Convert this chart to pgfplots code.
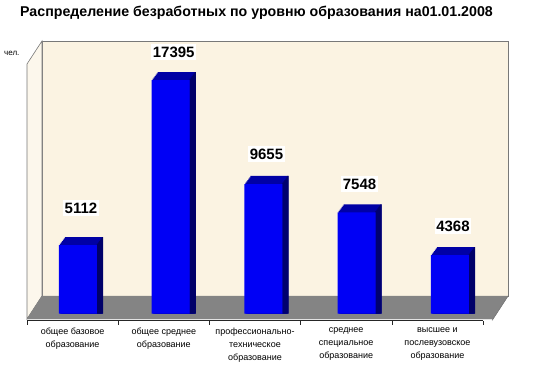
\documentclass[border=0pt]{standalone}
\usepackage{pgfplots}
\usepackage{pgfplotstable}
\pgfplotsset{compat=1.18}
\usepackage{fontspec}
\setmainfont{Liberation Sans}
\definecolor{wall}{RGB}{251,243,226}
\definecolor{sidewall}{RGB}{252,247,236}
\definecolor{floorgray}{RGB}{132,132,132}
\definecolor{edge}{RGB}{120,120,120}
\definecolor{frontblue}{RGB}{0,0,245}
\definecolor{topface}{RGB}{0,0,165}
\definecolor{sideface}{RGB}{0,0,105}
\pgfplotstableread{
x v ly
0.559 5112 37
1.576 17395 28
2.593 9655 30
3.613 7548 28
4.638 4368 29
}\data
\begin{document}
\begin{tikzpicture}[x=1pt,y=1pt]
\path[use as bounding box] (0,0) rectangle (534,377);
\filldraw[fill=wall, draw=edge, line width=0.7pt] (42,81) rectangle (508,336);
\filldraw[fill=sidewall, draw=edge, line width=0.6pt] (27,58) -- (27,313) -- (42,336) -- (42,81) -- cycle;
\filldraw[fill=floorgray, draw=floorgray] (27,58) -- (493,58) -- (508,81) -- (42,81) -- cycle;
\draw[edge, line width=0.6pt] (492,56.5)--(508,81);
\node[font=\bfseries\fontsize{14.2}{16}\selectfont, anchor=center, inner sep=0pt] at (256.5,364) {Распределение безработных по уровню образования на01.01.2008};
\node[font=\fontsize{8}{9}\selectfont, anchor=west, inner sep=0pt] at (4,324) {чел.};
\begin{axis}[
  at={(27pt,56.5pt)}, anchor=south west, scale only axis,
  width=456pt, height=279.5pt,
  xmin=0, xmax=5, ymin=-506, ymax=20301,
  axis y line=none, axis x line*=bottom,
  axis line style={black!85, line width=0.6pt},
  xtick={0,1,2,3,4,5}, x tick label as interval,
  xticklabels={{общее базовое\\образование},{общее среднее\\образование},{профессионально-\\техническое\\образование},{среднее\\специальное\\образование},{высшее и\\послевузовское\\образование}},
  xticklabel style={align=center, font=\fontsize{9}{13}\selectfont, anchor=north, inner sep=0pt, yshift=-3pt},
  tick align=outside, major tick length=4pt,
  xtick style={black!85, line width=0.6pt},
  clip=false,
]
\addplot[ybar, bar width=38pt, bar shift=1pt, fill=topface, draw=none] table[x=x, y expr=\thisrow{v}+99.3] {\data};
\addplot[ybar, bar width=38pt, bar shift=2pt, fill=topface, draw=none] table[x=x, y expr=\thisrow{v}+198.7] {\data};
\addplot[ybar, bar width=38pt, bar shift=3pt, fill=topface, draw=none] table[x=x, y expr=\thisrow{v}+298] {\data};
\addplot[ybar, bar width=38pt, bar shift=4pt, fill=topface, draw=none] table[x=x, y expr=\thisrow{v}+397.3] {\data};
\addplot[ybar, bar width=38pt, bar shift=5pt, fill=topface, draw=none] table[x=x, y expr=\thisrow{v}+496.7] {\data};
\addplot[ybar, bar width=38pt, bar shift=6pt, fill=topface, draw=none] table[x=x, y expr=\thisrow{v}+596] {\data};
\addplot[ybar, bar width=1.4pt, bar shift=19.5pt, fill=sideface, draw=none] table[x=x, y expr=\thisrow{v}+99.3] {\data};
\addplot[ybar, bar width=1.4pt, bar shift=20.5pt, fill=sideface, draw=none] table[x=x, y expr=\thisrow{v}+198.7] {\data};
\addplot[ybar, bar width=1.4pt, bar shift=21.5pt, fill=sideface, draw=none] table[x=x, y expr=\thisrow{v}+298] {\data};
\addplot[ybar, bar width=1.4pt, bar shift=22.5pt, fill=sideface, draw=none] table[x=x, y expr=\thisrow{v}+397.3] {\data};
\addplot[ybar, bar width=1.4pt, bar shift=23.5pt, fill=sideface, draw=none] table[x=x, y expr=\thisrow{v}+496.7] {\data};
\addplot[ybar, bar width=1.4pt, bar shift=24.5pt, fill=sideface, draw=none] table[x=x, y expr=\thisrow{v}+596] {\data};
\addplot[ybar, bar width=38pt, bar shift=0pt, fill=frontblue, draw=none,
  point meta=explicit symbolic,
  visualization depends on={\thisrow{ly} \as \ly},
  nodes near coords,
  every node near coord/.append style={anchor=center, yshift=\ly pt, xshift=3pt, fill=white, inner xsep=1.5pt, inner ysep=2.5pt, font=\bfseries\fontsize{15}{17}\selectfont, text=black},
] table[x=x, y=v, meta=v] {\data};
\end{axis}
\end{tikzpicture}
\end{document}
